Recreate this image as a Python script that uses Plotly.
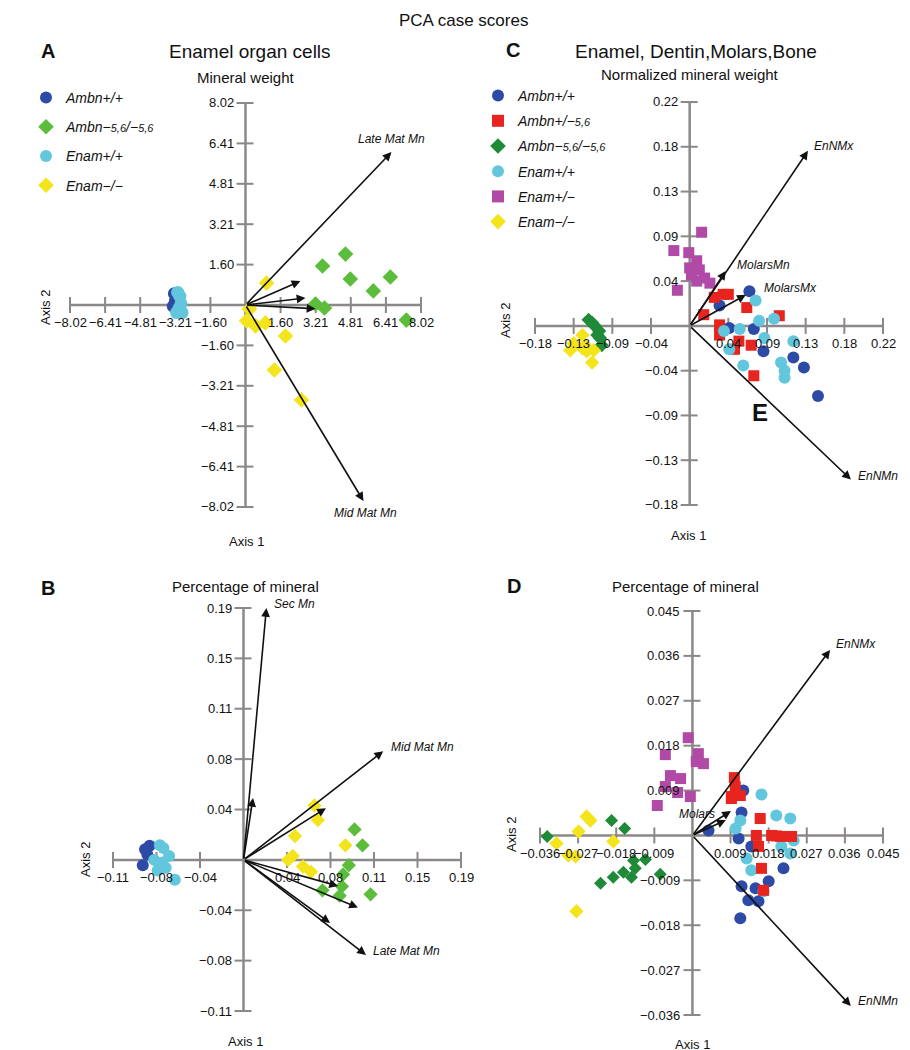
import plotly.graph_objects as go

W, H = 910, 1050
FONT = "Arial, Liberation Sans, sans-serif"

# ---------------- colours ----------------
C_AMBN_WT = "#2d4aa6"
C_AMBN_KO_AB = "#5bbd3b"
C_AMBN_KO_CD = "#1f8a38"
C_ENAM_WT = "#62c6dd"
C_ENAM_KO = "#f3e41c"
C_AMBN_HET = "#e8241e"
C_ENAM_HET = "#b04aa6"

# ---------------- series names ----------------
S56 = "<span style='font-size:11px'>5,6</span>"
N_AMBN_WT = "<i>Ambn+/+</i>"
N_AMBN_HET = "<i>Ambn+/−" + S56 + "</i>"
N_AMBN_KO = "<i>Ambn−" + S56 + "/−" + S56 + "</i>"
N_ENAM_WT = "<i>Enam+/+</i>"
N_ENAM_HET = "<i>Enam+/−</i>"
N_ENAM_KO = "<i>Enam−/−</i>"

# ---------------- Panel A : Mineral weight ----------------
a_ticks = [-8.02, -6.416, -4.812, -3.208, -1.604, 1.604, 3.208, 4.812, 6.416, 8.02]
a_labels = ["−8.02", "−6.41", "−4.81", "−3.21", "−1.60", "1.60", "3.21", "4.81", "6.41", "8.02"]
a_ambn_wt_x = [-3.25, -3.2, -3.3]
a_ambn_wt_y = [0.45, 0.15, -0.05]
a_enam_wt_x = [-3.0, -2.95, -3.05, -2.9, -3.1, -3.15]
a_enam_wt_y = [0.35, 0.05, -0.15, -0.3, 0.5, -0.3]
a_ambn_ko_x = [4.57, 3.52, 4.79, 6.62, 5.84, 3.2, 3.61, 7.35]
a_ambn_ko_y = [2.02, 1.55, 1.03, 1.11, 0.56, 0.04, -0.12, -0.60]
a_enam_ko_x = [0.96, 0.18, 0.05, 0.46, 0.91, 1.83, 1.32, 2.56]
a_enam_ko_y = [0.87, -0.16, -0.63, -0.83, -0.71, -1.23, -2.58, -3.77]
a_load_x = [6.67, 5.39, 2.51, 2.74, 3.2]
a_load_y = [6.07, -7.78, 0.95, 0.28, -0.15]
a_load_names = ["Late Mat Mn", "Mid Mat Mn", "", "", ""]

# ---------------- Panel B : Percentage of mineral ----------------
b_ticks_x = [-0.114, -0.076, -0.038, 0.038, 0.076, 0.114, 0.152, 0.19]
b_labels_x = ["−0.11", "−0.08", "−0.04", "0.04", "0.08", "0.11", "0.15", "0.19"]
b_ticks_y = [-0.114, -0.076, -0.038, 0.038, 0.076, 0.114, 0.152, 0.19]
b_labels_y = ["−0.11", "−0.08", "−0.04", "0.04", "0.08", "0.11", "0.15", "0.19"]
b_ambn_wt_x = [-0.082, -0.088, -0.084, -0.086]
b_ambn_wt_y = [0.0106, -0.004, 0.004, 0.008]
b_enam_wt_x = [-0.073, -0.065, -0.071, -0.075, -0.060, -0.078, -0.068, -0.070]
b_enam_wt_y = [0.011, 0.003, -0.002, -0.008, -0.015, 0.0, -0.006, 0.009]
b_ambn_ko_x = [0.097, 0.104, 0.092, 0.087, 0.086, 0.069, 0.084, 0.111]
b_ambn_ko_y = [0.023, 0.011, -0.004, -0.011, -0.020, -0.023, -0.027, -0.026]
b_enam_ko_x = [0.062, 0.065, 0.045, 0.089, 0.043, 0.039, 0.052, 0.059]
b_enam_ko_y = [0.041, 0.030, 0.018, 0.011, 0.003, 0.0, -0.005, -0.009]
b_load_x = [0.020, 0.0083, 0.122, 0.072, 0.0826, 0.100, 0.0756, 0.107]
b_load_y = [0.19, 0.0467, 0.082, 0.039, -0.0197, -0.036, -0.0476, -0.0717]
b_load_names = ["Sec Mn", "", "Mid Mat Mn", "", "", "", "", "Late Mat Mn"]

# ---------------- Panel C : Normalized mineral weight ----------------
c_ticks = [-0.176, -0.132, -0.088, -0.044, 0.044, 0.088, 0.132, 0.176, 0.22]
c_labels = ["−0.18", "−0.13", "−0.09", "−0.04", "0.04", "0.09", "0.13", "0.18", "0.22"]
c_ambn_wt_x = [0.068, 0.034, 0.045, 0.073, 0.084, 0.118, 0.130, 0.146]
c_ambn_wt_y = [0.034, 0.020, -0.002, -0.003, -0.025, -0.031, -0.041, -0.069]
c_ambn_het_x = [0.028, 0.038, 0.044, 0.065, 0.016, 0.034, 0.102, 0.034, 0.056, 0.070, 0.051, 0.073]
c_ambn_het_y = [0.028, 0.031, 0.031, 0.018, 0.011, 0.001, 0.010, -0.009, -0.015, -0.019, -0.023, -0.049]
c_ambn_ko_x = [-0.115, -0.111, -0.108, -0.103, -0.102, -0.100, -0.105]
c_ambn_ko_y = [0.006, 0.003, 0.0, -0.005, -0.012, -0.019, -0.009]
c_enam_wt_x = [0.075, 0.096, 0.079, 0.057, 0.039, 0.085, 0.118, 0.045, 0.061, 0.104, 0.108, 0.108]
c_enam_wt_y = [0.025, 0.007, 0.005, -0.003, -0.005, -0.012, -0.015, -0.023, -0.039, -0.036, -0.044, -0.051]
c_enam_het_x = [0.0136, -0.018, -0.001, 0.008, 0.0, 0.011, 0.017, 0.008, 0.023, -0.014, 0.002]
c_enam_het_y = [0.092, 0.074, 0.072, 0.064, 0.057, 0.055, 0.047, 0.044, 0.042, 0.035, 0.050]
c_enam_ko_x = [-0.122, -0.132, -0.119, -0.109, -0.117, -0.111, -0.136, -0.122]
c_enam_ko_y = [-0.009, -0.017, -0.019, -0.024, -0.025, -0.036, -0.024, -0.022]
c_load_x = [0.1346, 0.041, 0.064, 0.1835]
c_load_y = [0.172, 0.054, 0.0305, -0.151]
c_load_names = ["EnNMx", "MolarsMn", "MolarsMx", "EnNMn"]

# ---------------- Panel D : Percentage of mineral ----------------
d_ticks = [-0.036, -0.027, -0.018, -0.009, 0.009, 0.018, 0.027, 0.036, 0.045]
d_labels = ["−0.036", "−0.027", "−0.018", "−0.009", "0.009", "0.018", "0.027", "0.036", "0.045"]
d_ambn_wt_x = [0.012, 0.0116, 0.0038, 0.0109, 0.0139, 0.0215, 0.018, 0.0116, 0.0149, 0.0132, 0.0156, 0.0113]
d_ambn_wt_y = [0.009, 0.0046, 0.001, -0.0006, -0.0022, -0.0066, -0.0092, -0.0102, -0.0106, -0.013, -0.0132, -0.0166]
d_ambn_het_x = [0.0099, 0.0101, 0.0092, 0.0113, 0.0092, 0.016, 0.0151, 0.0187, 0.0208, 0.0234, 0.0156, 0.0163, 0.0168, 0.0198]
d_ambn_het_y = [0.0116, 0.0098, 0.0078, 0.008, 0.0074, 0.0034, 0.0, 0.0, -0.0002, -0.0002, -0.0022, -0.0066, -0.011, -0.0001]
d_ambn_ko_x = [-0.0343, -0.0191, -0.016, -0.0139, -0.0111, -0.0135, -0.0163, -0.0144, -0.0187, -0.0217, -0.0076]
d_ambn_ko_y = [-0.0002, 0.003, 0.0014, -0.005, -0.0048, -0.0066, -0.0074, -0.0084, -0.0084, -0.0096, -0.0078]
d_enam_wt_x = [0.0163, 0.0198, 0.0231, 0.0113, 0.0102, 0.021, 0.0239, 0.0231, 0.0128, 0.0139, 0.0168]
d_enam_wt_y = [0.0082, 0.004, 0.0034, 0.003, 0.0014, -0.0022, -0.001, -0.0036, -0.0046, -0.007, -0.0112]
d_enam_het_x = [-0.001, -0.0064, 0.0014, 0.0026, 0.0009, -0.0052, -0.0028, -0.0064, -0.0035, -0.0005, -0.0083]
d_enam_het_y = [0.0196, 0.0162, 0.0164, 0.0144, 0.0148, 0.012, 0.0114, 0.0098, 0.0086, 0.0078, 0.006]
d_enam_ko_x = [-0.025, -0.0241, -0.0269, -0.0321, -0.0293, -0.0276, -0.0187, -0.0274]
d_enam_ko_y = [0.0038, 0.003, 0.0008, -0.0016, -0.004, -0.0042, -0.0012, -0.0152]
d_load_x = [0.0325, 0.0091, 0.0079, 0.0374]
d_load_y = [0.0372, 0.0049, 0.0031, -0.0342]
d_load_names = ["EnNMx", "Molars", "", "EnNMn"]

fig = go.Figure()
annotations = []


def axis_cfg(v0, p0, v1, p1, pmin, pmax, size, vertical):
    k = (p1 - p0) / (v1 - v0)
    val = lambda p: v0 + (p - p0) / k
    if vertical:
        dom = [1 - pmax / size, 1 - pmin / size]
        rng = [val(pmax), val(pmin)]
    else:
        dom = [pmin / size, pmax / size]
        rng = [val(pmin), val(pmax)]
    return dict(domain=dom, range=rng, visible=False, fixedrange=True), abs(k)


# panel geometry: reference tick pixels and boxes
panels = {
    "A": dict(xa="x", ya="y", xr=(-8.02, 62, 8.02, 413), yr=(8.02, 95, -8.02, 499), xb=(30, 450), yb=(80, 515)),
    "B": dict(xa="x2", ya="y2", xr=(-0.114, 105, 0.19, 453), yr=(0.19, 600, -0.114, 1003), xb=(70, 460), yb=(585, 1015)),
    "C": dict(xa="x3", ya="y3", xr=(-0.176, 527, 0.22, 875), yr=(0.22, 94, -0.176, 497), xb=(470, 905), yb=(80, 510)),
    "D": dict(xa="x4", ya="y4", xr=(-0.036, 532, 0.045, 875), yr=(0.045, 603, -0.036, 1007), xb=(470, 905), yb=(590, 1020)),
}
layout_axes = {}
scales = {}
for key, p in panels.items():
    xcfg, kx = axis_cfg(*p["xr"], *p["xb"], W, False)
    ycfg, ky = axis_cfg(*p["yr"], *p["yb"], H, True)
    xn = "xaxis" + p["xa"][1:]
    yn = "yaxis" + p["ya"][1:]
    xcfg["anchor"] = p["ya"]
    ycfg["anchor"] = p["xa"]
    layout_axes[xn] = xcfg
    layout_axes[yn] = ycfg
    scales[key] = (kx, ky)

AXIS_COL = "#8c8888"


def cross_axes(key, xt, xl, yt, yl):
    p = panels[key]
    kx, ky = scales[key]
    xa, ya = p["xa"], p["ya"]
    xmin, xmax = min(xt), max(xt)
    ymin, ymax = min(yt), max(yt)
    fig.add_trace(go.Scatter(x=[xmin, xmax, None, 0, 0], y=[0, 0, None, ymin, ymax], mode="lines",
                             line=dict(color=AXIS_COL, width=2.5), xaxis=xa, yaxis=ya,
                             showlegend=False, hoverinfo="skip"))
    tx, ty = [], []
    for v in xt:
        tx += [v, v, None]
        ty += [-8 / ky, 8 / ky, None]
    for v in yt:
        tx += [-9 / kx, 8 / kx, None]
        ty += [v, v, None]
    fig.add_trace(go.Scatter(x=tx, y=ty, mode="lines", line=dict(color=AXIS_COL, width=2),
                             xaxis=xa, yaxis=ya, showlegend=False, hoverinfo="skip"))
    for v, s in zip(xt, xl):
        annotations.append(dict(x=v, y=0, xref=xa, yref=ya, text=s, showarrow=False, yshift=-18,
                                font=dict(size=13, color="#111", family=FONT)))
    for v, s in zip(yt, yl):
        annotations.append(dict(x=0, y=v, xref=xa, yref=ya, text=s, showarrow=False, xanchor="right",
                                xshift=-10, font=dict(size=13, color="#111", family=FONT)))


def series(key, name, xs, ys, symbol, color, size, legend=None):
    p = panels[key]
    fig.add_trace(go.Scatter(x=xs, y=ys, mode="markers", name=name, xaxis=p["xa"], yaxis=p["ya"],
                             marker=dict(symbol=symbol, color=color, size=size, line=dict(width=0)),
                             showlegend=legend is not None, legend=legend or "legend",
                             legendgroup=(legend or "") + name, cliponaxis=False, hoverinfo="skip"))


def loadings(key, lx, ly, names, label_pos):
    p = panels[key]
    xa, ya = p["xa"], p["ya"]
    for x, y, n in zip(lx, ly, names):
        annotations.append(dict(x=x, y=y, ax=0, ay=0, xref=xa, yref=ya, axref=xa, ayref=ya, text="",
                                showarrow=True, arrowhead=2, arrowsize=1.1, arrowwidth=1.6,
                                arrowcolor="#111", standoff=0))
        if n:
            xanc, yanc, xs, ys = label_pos[n]
            annotations.append(dict(x=x, y=y, xref=xa, yref=ya, text="<i>" + n + "</i>", showarrow=False,
                                    xanchor=xanc, yanchor=yanc, xshift=xs, yshift=ys,
                                    font=dict(size=12, color="#111", family=FONT)))


# ---- Panel A ----
cross_axes("A", a_ticks, a_labels, a_ticks, a_labels)
series("A", N_AMBN_WT, a_ambn_wt_x, a_ambn_wt_y, "circle", C_AMBN_WT, 13, "legend")
series("A", N_AMBN_KO, a_ambn_ko_x, a_ambn_ko_y, "diamond", C_AMBN_KO_AB, 12, "legend")
series("A", N_ENAM_WT, a_enam_wt_x, a_enam_wt_y, "circle", C_ENAM_WT, 13, "legend")
series("A", N_ENAM_KO, a_enam_ko_x, a_enam_ko_y, "diamond", C_ENAM_KO, 12, "legend")
loadings("A", a_load_x, a_load_y, a_load_names,
         {"Late Mat Mn": ("center", "bottom", 0, 4), "Mid Mat Mn": ("center", "top", 2, -3)})

# ---- Panel B ----
cross_axes("B", b_ticks_x, b_labels_x, b_ticks_y, b_labels_y)
series("B", N_AMBN_WT, b_ambn_wt_x, b_ambn_wt_y, "circle", C_AMBN_WT, 12)
series("B", N_ENAM_WT, b_enam_wt_x, b_enam_wt_y, "circle", C_ENAM_WT, 12)
series("B", N_AMBN_KO, b_ambn_ko_x, b_ambn_ko_y, "diamond", C_AMBN_KO_AB, 11)
series("B", N_ENAM_KO, b_enam_ko_x, b_enam_ko_y, "diamond", C_ENAM_KO, 11)
loadings("B", b_load_x, b_load_y, b_load_names,
         {"Sec Mn": ("left", "middle", 6, 4), "Mid Mat Mn": ("left", "middle", 6, 4),
          "Late Mat Mn": ("left", "middle", 5, 4)})

# ---- Panel C ----
cross_axes("C", c_ticks, c_labels, c_ticks, c_labels)
series("C", N_AMBN_WT, c_ambn_wt_x, c_ambn_wt_y, "circle", C_AMBN_WT, 12, "legend2")
series("C", N_AMBN_HET, c_ambn_het_x, c_ambn_het_y, "square", C_AMBN_HET, 11, "legend2")
series("C", N_AMBN_KO, c_ambn_ko_x, c_ambn_ko_y, "diamond", C_AMBN_KO_CD, 11, "legend2")
series("C", N_ENAM_WT, c_enam_wt_x, c_enam_wt_y, "circle", C_ENAM_WT, 12, "legend2")
series("C", N_ENAM_HET, c_enam_het_x, c_enam_het_y, "square", C_ENAM_HET, 11, "legend2")
series("C", N_ENAM_KO, c_enam_ko_x, c_enam_ko_y, "diamond", C_ENAM_KO, 11, "legend2")
loadings("C", c_load_x, c_load_y, c_load_names,
         {"EnNMx": ("left", "middle", 4, 5), "MolarsMn": ("left", "middle", 9, 6),
          "MolarsMx": ("left", "middle", 16, 7), "EnNMn": ("left", "middle", 5, 4)})

# ---- Panel D ----
cross_axes("D", d_ticks, d_labels, d_ticks, d_labels)
series("D", N_ENAM_HET, d_enam_het_x, d_enam_het_y, "square", C_ENAM_HET, 11)
series("D", N_ENAM_KO, d_enam_ko_x, d_enam_ko_y, "diamond", C_ENAM_KO, 11)
series("D", N_AMBN_KO, d_ambn_ko_x, d_ambn_ko_y, "diamond", C_AMBN_KO_CD, 10)
series("D", N_AMBN_WT, d_ambn_wt_x, d_ambn_wt_y, "circle", C_AMBN_WT, 12)
series("D", N_ENAM_WT, d_enam_wt_x, d_enam_wt_y, "circle", C_ENAM_WT, 12)
series("D", N_AMBN_HET, d_ambn_het_x, d_ambn_het_y, "square", C_AMBN_HET, 11)
loadings("D", d_load_x, d_load_y, d_load_names,
         {"EnNMx": ("left", "middle", 4, 6), "Molars": ("right", "middle", -14, -3),
          "EnNMn": ("left", "middle", 5, 5)})


# ---- free text (paper coordinates from pixels) ----
def ptext(px, py, text, size, bold=False, angle=0, anchor="center"):
    annotations.append(dict(x=px / W, y=1 - py / H, xref="paper", yref="paper", text=text, showarrow=False,
                            xanchor=anchor, yanchor="middle", textangle=angle,
                            font=dict(size=size, color="#111", family=FONT,
                                      weight="bold" if bold else "normal")))


ptext(455, 12, "PCA case scores", 17)
ptext(40, 43, "A", 20, bold=True)
ptext(242, 43, "Enamel organ cells", 19)
ptext(238, 70, "Mineral weight", 15)
ptext(238, 533, "Axis 1", 13)
ptext(37, 300, "Axis 2", 13, angle=-90)
ptext(40, 580, "B", 20, bold=True)
ptext(237, 578, "Percentage of mineral", 15)
ptext(237, 1033, "Axis 1", 13)
ptext(77, 852, "Axis 2", 13, angle=-90)
ptext(505, 42, "C", 20, bold=True)
ptext(688, 43, "Enamel, Dentin,Molars,Bone", 19)
ptext(682, 67, "Normalized mineral weight", 15)
ptext(680, 527, "Axis 1", 13)
ptext(497, 312, "Axis 2", 13, angle=-90)
ptext(506, 578, "D", 20, bold=True)
ptext(677, 578, "Percentage of mineral", 15)
ptext(684, 1036, "Axis 1", 13)
ptext(503, 827, "Axis 2", 13, angle=-90)
ptext(752, 405, "E", 24, bold=True)

fig.update_layout(
    width=W, height=H, margin=dict(l=0, r=0, t=0, b=0),
    paper_bgcolor="white", plot_bgcolor="white",
    font=dict(family=FONT, color="#111"),
    annotations=annotations,
    legend=dict(x=18 / W, y=1 - 74 / H, xanchor="left", yanchor="top", bgcolor="rgba(0,0,0,0)",
                font=dict(size=14, family=FONT, color="#111"), tracegroupgap=8, itemsizing="constant",
                itemwidth=30),
    legend2=dict(x=470 / W, y=1 - 72 / H, xanchor="left", yanchor="top", bgcolor="rgba(0,0,0,0)",
                 font=dict(size=14, family=FONT, color="#111"), tracegroupgap=4, itemsizing="constant",
                 itemwidth=30),
    **layout_axes,
)

fig.write_html("out.html")
